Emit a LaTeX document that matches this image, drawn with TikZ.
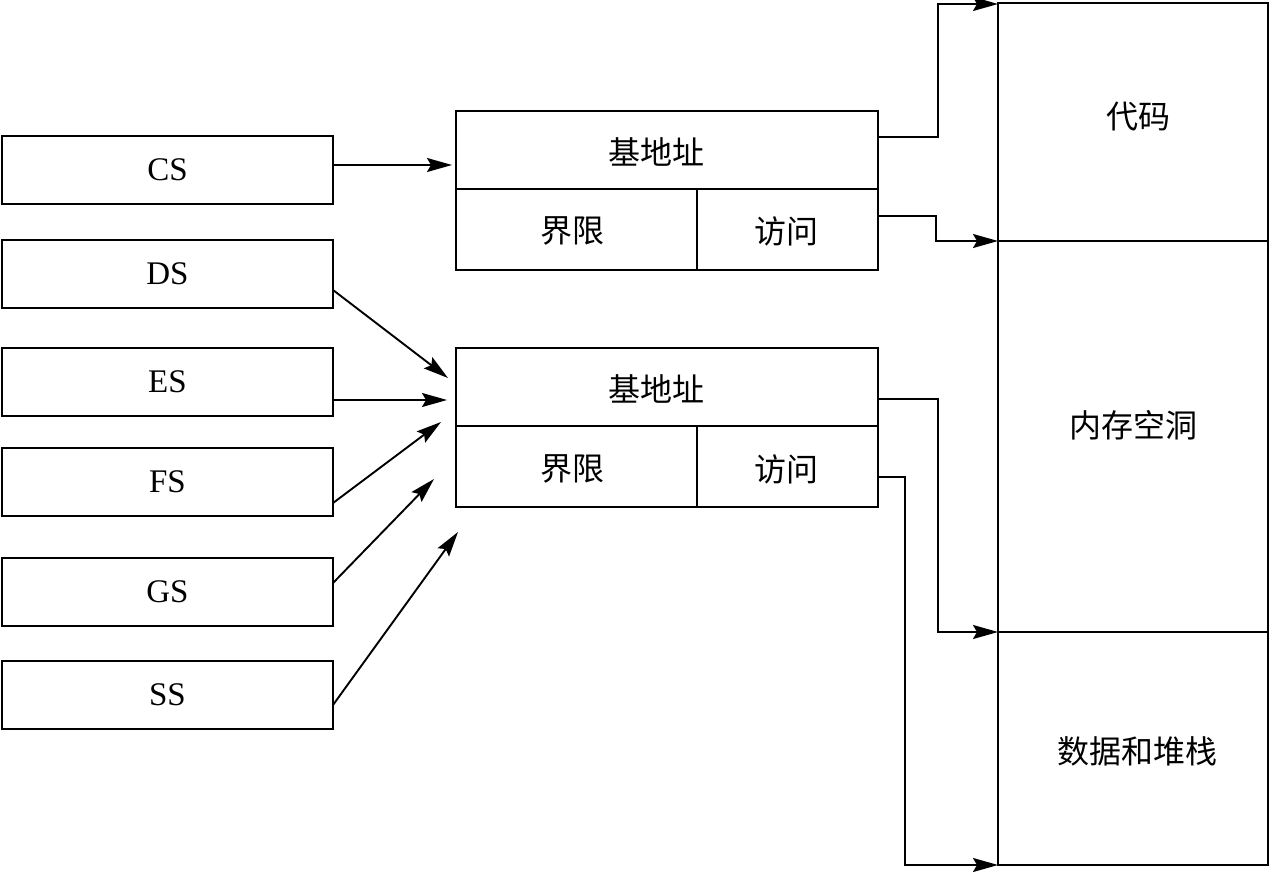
\documentclass[tikz,border=0pt]{standalone}
\usepackage{fontspec}
\setmainfont{Liberation Serif}
\newfontfamily\cjk{Noto Sans CJK SC}
\usetikzlibrary{arrows.meta,calc}
\begin{document}
\begin{tikzpicture}[x=1pt,y=-1pt,
  box/.style={draw=black,line width=2.6pt,rectangle,inner sep=0pt,outer sep=0pt,font=\fontsize{33}{36}\selectfont},
  cell/.style={draw=black,line width=2.6pt,rectangle,inner sep=0pt,outer sep=0pt},
  seg/.style={box,minimum width=331pt,minimum height=68pt},
  txt/.style={inner sep=0pt,font=\cjk\fontsize{32}{36}\selectfont},
  arr/.style={line width=1.9pt,-{Stealth[length=25pt,width=14pt,inset=4pt]}}]
\useasboundingbox (0,0) rectangle (1270,872);
% left segment registers
\node[seg] (CS) at (167.5,170) {CS};
\node[seg] (DS) at (167.5,274) {DS};
\node[seg] (ES) at (167.5,382) {ES};
\node[seg] (FS) at (167.5,482) {FS};
\node[seg] (GS) at (167.5,592) {GS};
\node[seg] (SS) at (167.5,695) {SS};
% upper descriptor
\node[cell,minimum width=422pt,minimum height=78pt] (ub) at (667,150) {};
\node[cell,minimum width=241pt,minimum height=81pt] (ul) at (576.5,229.5) {};
\node[cell,minimum width=181pt,minimum height=81pt] (ua) at (787.5,229.5) {};
\node[txt] (ubt) at (656,152) {基地址};
\node[txt] (ult) at (572,231) {界限};
\node[txt] (uat) at (786,231) {访问};
% lower descriptor
\node[cell,minimum width=422pt,minimum height=78pt] (lb) at (667,387) {};
\node[cell,minimum width=241pt,minimum height=81pt] (ll) at (576.5,466.5) {};
\node[cell,minimum width=181pt,minimum height=81pt] (la) at (787.5,466.5) {};
\node[txt] (lbt) at (656,389) {基地址};
\node[txt] (llt) at (572,469) {界限};
\node[txt] (lat) at (786,469) {访问};
% memory
\node[cell,minimum width=270pt,minimum height=238pt] (m1) at (1133,122) {};
\node[cell,minimum width=270pt,minimum height=391pt] (m2) at (1133,436.5) {};
\node[cell,minimum width=270pt,minimum height=233pt] (m3) at (1133,748.5) {};
\node[txt] (t1) at (1138,117) {代码};
\node[txt] (t2) at (1133,425) {内存空洞};
\node[txt] (t3) at (1137,751) {数据和堆栈};
% free ends
\coordinate (eCS) at (452,165);
\coordinate (eDS) at (448,378);
\coordinate (eES) at (447,400);
\coordinate (eFS) at (441,422);
\coordinate (eGS) at (434,479);
\coordinate (eSS) at (458,532);
% arrows from registers
\draw[arr] ($(CS.east)+(0,-5)$) -- (eCS);
\draw[arr] ($(DS.east)+(0,16)$) -- (eDS);
\draw[arr] ($(ES.east)+(0,18)$) -- (eES);
\draw[arr] ($(FS.east)+(0,21)$) -- (eFS);
\draw[arr] ($(GS.east)+(0,-9)$) -- (eGS);
\draw[arr] ($(SS.east)+(0,10)$) -- (eSS);
% arrows to memory
\draw[arr] ($(ub.east)+(0,-13)$) -- ++(60,0) |- ($(m1.north west)+(0,1)$);
\draw[arr] ($(ua.east)+(0,-13.5)$) -- ++(58,0) |- (m2.north west);
\draw[arr] ($(lb.east)+(0,12)$) -- ++(60,0) |- (m3.north west);
\draw[arr] ($(la.east)+(0,10.5)$) -- ++(27,0) |- (m3.south west);
\end{tikzpicture}
\end{document}
